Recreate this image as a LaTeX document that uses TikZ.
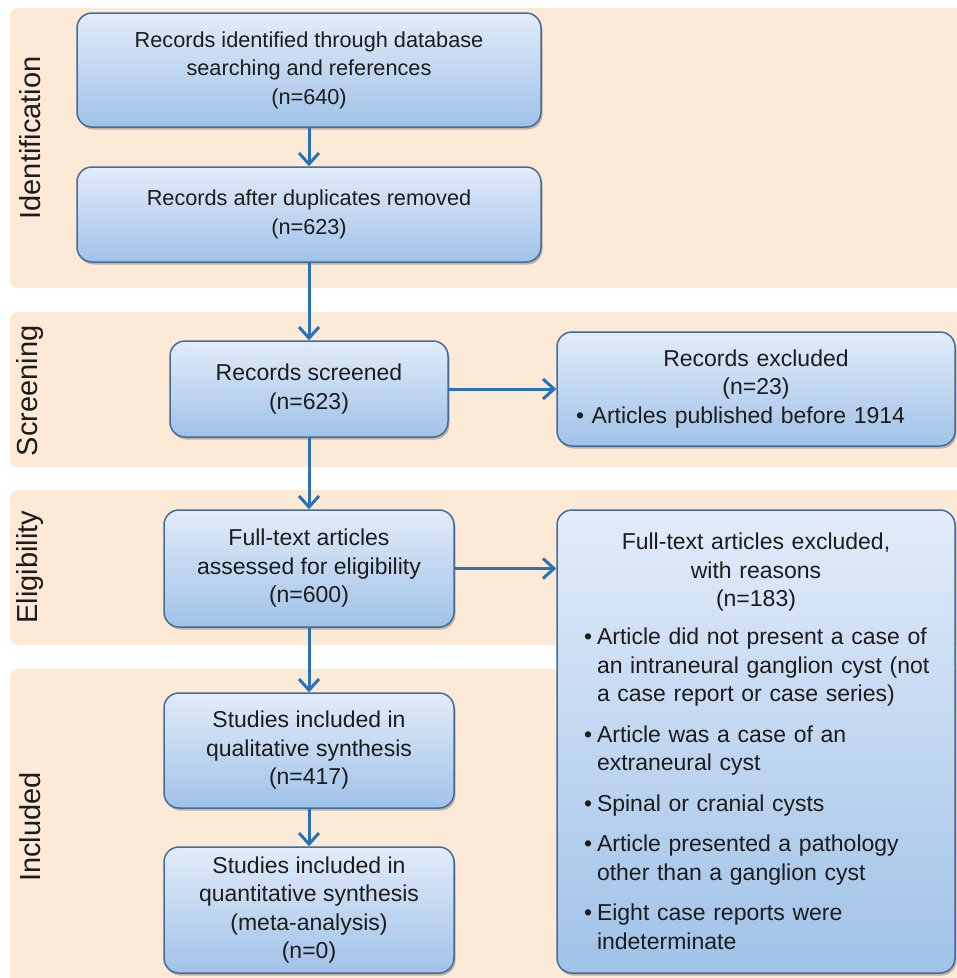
\documentclass[tikz,border=0pt]{standalone}
\usepackage{fontspec}
\setmainfont{Liberation Sans}
\usepackage{tikz}
\usetikzlibrary{arrows.meta,shadows}

\definecolor{bandpeach}{RGB}{252,233,214}
\definecolor{boxtop}{RGB}{226,236,249}
\definecolor{boxbot}{RGB}{160,194,232}
\definecolor{boxline}{RGB}{68,108,152}
\definecolor{flowblue}{RGB}{40,114,185}
\definecolor{inkgrey}{RGB}{28,28,28}

\tikzset{
  band/.style={fill=bandpeach, rounded corners=8},
  phase/.style={rotate=90, text=inkgrey, font=\fontsize{29}{32}\selectfont},
  stepbox/.style={draw=boxline, line width=1.5pt, rounded corners=15,
    top color=boxtop, bottom color=boxbot, text=inkgrey, inner sep=0pt,
    align=center, font=\fontsize{23}{28.5}\selectfont,
    drop shadow={shadow xshift=1.5pt, shadow yshift=-2.5pt, opacity=0.35, fill=black!70}},
  flow/.style={draw=flowblue, line width=3pt,
    -{Straight Barb[length=11pt,width=20pt]}}
}

\newcommand\exitem[1]{\par\vspace{12pt}{\leftskip=16pt\noindent
  \llap{\makebox[16pt][l]{\hspace{3pt}\textbullet}}#1\par}}

\begin{document}
\begin{tikzpicture}[x=1pt,y=-1pt]
    \clip (0,0) rectangle (957,978) ;
\fill[white] (0,0) rectangle (957,978) ; % Page 
\fill[band] (10,8) rectangle (975,288) ; % Band.0 
\fill[band] (10,312) rectangle (975,467) ; % Band.1 
\fill[band] (10,490) rectangle (975,645) ; % Band.2 
\fill[band] (10,669) rectangle (975,995) ; % Band.3 
\node[phase] (ident) at (30,138) {Identification}; % Band.0 
\node[phase] (screen) at (30,391) {Screening}; % Band.1 
\node[phase] (elig) at (30,567) {Eligibility}; % Band.2 
\node[phase] (incl) at (30,827) {Included}; % Band.3 
\node[stepbox, minimum width=464, minimum height=114, font=\fontsize{21.7}{28.5}\selectfont] (found) at (309,70)
  {Records identified through database\\searching and references\\(n=640)}; % Box.0 
\node[stepbox, minimum width=464, minimum height=95, font=\fontsize{21.7}{28.5}\selectfont] (dedup) at (309,214.5)
  {Records after duplicates removed\\(n=623)}; % Box.1 
\node[stepbox, minimum width=278, minimum height=96] (screened) at (309,389)
  {Records screened\\(n=623)}; % Box.2 
\node[stepbox, minimum width=398, minimum height=114, text width=360pt, align=left] (recex) at (756,389)
  {{\centering Records excluded\\(n=23)\par}\noindent\textbullet\ Articles published before 1914}; % Box.3 
\node[stepbox, minimum width=290, minimum height=117] (fulltext) at (309,568.5)
  {Full-text articles\\assessed for eligibility\\(n=600)}; % Box.4 
\node[stepbox, minimum width=398, minimum height=463, text width=350pt, align=left] (fullex) at (756,741.5)
  {{\centering Full-text articles excluded,\\with reasons\\(n=183)\par}\vspace{-2.5pt}%
   \exitem{Article did not present a case of\\an intraneural ganglion cyst (not\\a case report or case series)}%
   \exitem{Article was a case of an\\extraneural cyst}%
   \exitem{Spinal or cranial cysts}%
   \exitem{Article presented a pathology\\other than a ganglion cyst}%
   \exitem{Eight case reports were\\indeterminate}}; % Box.5 
\node[stepbox, minimum width=290, minimum height=115] (quali) at (309,750.5)
  {Studies included in\\qualitative synthesis\\(n=417)}; % Box.6 
\node[stepbox, minimum width=290, minimum height=126] (quanti) at (309,910)
  {Studies included in\\quantitative synthesis\\(meta-analysis)\\(n=0)}; % Box.7 
\draw[flow] (found) -- (dedup) ; % Edge.0 
\draw[flow] (dedup) -- (screened) ; % Edge.1 
\draw[flow] (screened) -- (fulltext) ; % Edge.2 
\draw[flow] (fulltext) -- (quali) ; % Edge.3 
\draw[flow] (quali) -- (quanti) ; % Edge.4 
\draw[flow] (screened) -- (recex) ; % Edge.5 
\draw[flow] (fulltext.east) -- (fulltext.east -| fullex.west) ; % Edge.6 
    \end{tikzpicture}
\end{document}
